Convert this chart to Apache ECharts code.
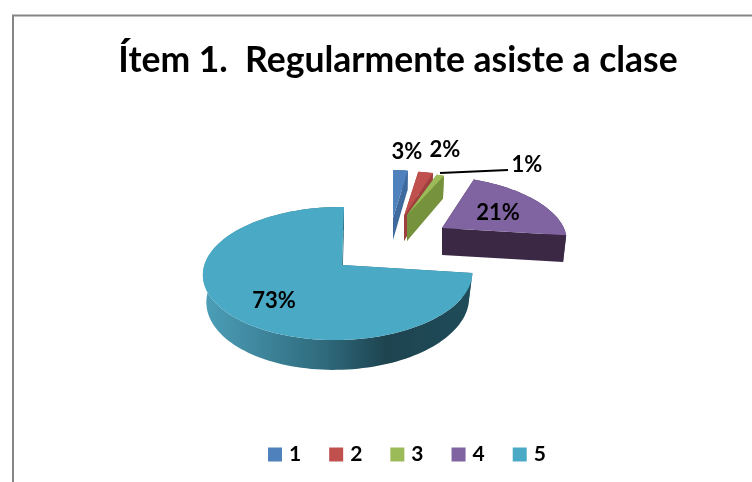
<!DOCTYPE html>
<html>
<head>
<meta charset="utf-8">
<style>html,body{margin:0;padding:0;background:#fff}#c{width:752px;height:482px}</style>
<script src="https://cdn.jsdelivr.net/npm/echarts@6/dist/echarts.min.js"></script>
</head>
<body>
<div id="c"></div>
<script>
const titleText = 'Ítem 1.  Regularmente asiste a clase';
const categories = ['1', '2', '3', '4', '5'];
const values = [3, 2, 1, 21, 73];
const colors = ['#4F81BD', '#C0504D', '#9BBB59', '#8064A2', '#4AA9C4'];
const wallColors = ['#3F6A9E', '#9E413E', '#76923C', '#3A2845', '#2F6A7C'];

// 3D view settings: apex position, axis scale, skew and wall depth of each exploded slice
const views = [
  { ax: 393, ay: 218, sx: 0.67, sy: 0.83, skew: 0, depth: 22 },
  { ax: 404, ay: 216, sx: 1, sy: 0.78, skew: -9, depth: 25 },
  { ax: 407, ay: 215, sx: 1, sy: 0.73, skew: -8, depth: 26 },
  { ax: 442, ay: 228, sx: 0.94, sy: 0.9, skew: -11, depth: 27 },
  { ax: 342, ay: 265, sx: 1, sy: 1, skew: 2.3, depth: 26 }
];
const labelSpots = [[407, 152], [445, 150], [527, 165], [498, 213], [274, 301]];
const R = 133.5, H = 65.4, K = 0.128, J = 0.03;
const total = values.reduce((a, b) => a + b, 0);

function project(view, deg, level) {
  const t = deg * Math.PI / 180, u = Math.sin(t), v = Math.cos(t);
  const s = 1 / (1 + K * v + J * u);
  return [
    view.ax + (view.sx * R * u + view.skew * v) * s * (1 - 0.025 * level),
    view.ay - view.sy * H * v * s + view.depth * s * level
  ];
}
function arc(view, a, b, level) {
  const pts = [], n = Math.max(2, Math.ceil((b - a) / 2));
  for (let i = 0; i <= n; i++) pts.push(project(view, a + (b - a) * i / n, level));
  return pts;
}
function apex(view, level) {
  return [view.ax, view.ay + view.depth * level];
}

function makeRender(idx) {
  return function (params, api) {
    const value = api.value(0);
    let before = 0;
    for (let i = 0; i < idx; i++) before += values[i];
    const a = before / total * 360, b = (before + value) / total * 360;
    const view = views[idx];
    const top = arc(view, a, b, 0), low = arc(view, a, b, 1);
    const wallFill = idx === 4
      ? new echarts.graphic.LinearGradient(0, 0, 1, 0, [
          { offset: 0, color: '#4C9FB9' },
          { offset: 0.45, color: '#2F6A7C' },
          { offset: 0.68, color: '#1E4450' },
          { offset: 1, color: '#1F4B59' }
        ])
      : wallColors[idx];
    const poly = (points, fill) => ({ type: 'polygon', shape: { points }, style: { fill } });
    const children = [
      poly([apex(view, 0), top[0], low[0], apex(view, 1)], wallColors[idx]),
      poly([apex(view, 0), top[top.length - 1], low[low.length - 1], apex(view, 1)], wallColors[idx]),
      poly(top.concat(low.slice().reverse()), wallFill),
      poly([apex(view, 0)].concat(top), colors[idx]),
      {
        type: 'text',
        style: {
          x: labelSpots[idx][0], y: labelSpots[idx][1], text: value + '%',
          fill: '#000', font: 'bold 22px Lato', align: 'center', verticalAlign: 'middle'
        },
        z2: 10
      }
    ];
    return { type: 'group', children };
  };
}

const chart = echarts.init(document.getElementById('c'), null, { renderer: 'canvas' });
chart.setOption({
  animation: false,
  backgroundColor: '#fff',
  title: {
    text: titleText, left: 393, top: 38, textAlign: 'center',
    textStyle: { fontFamily: 'Lato', fontWeight: 'bold', fontSize: 35.5, color: '#000' }
  },
  legend: {
    data: categories, left: 268, top: 444, padding: 0, itemWidth: 14, itemHeight: 14, itemGap: 28,
    icon: 'rect', textStyle: { fontFamily: 'Lato', fontWeight: 'bold', fontSize: 21, color: '#000', padding: [0, 0, 0, 2] }
  },
  graphic: [
    { type: 'polyline', shape: { points: [[13, 482], [13, 15.5], [752, 15.5]] }, style: { stroke: '#868686', lineWidth: 2, fill: null } },
    { type: 'line', shape: { x1: 440, y1: 173, x2: 508, y2: 170 }, style: { stroke: '#000', lineWidth: 2 }, z: 20 }
  ],
  series: categories.map((name, i) => ({
    type: 'custom',
    name,
    coordinateSystem: 'none',
    itemStyle: { color: colors[i] },
    renderItem: makeRender(i),
    data: [[values[i]]]
  }))
});
</script>
</body>
</html>
